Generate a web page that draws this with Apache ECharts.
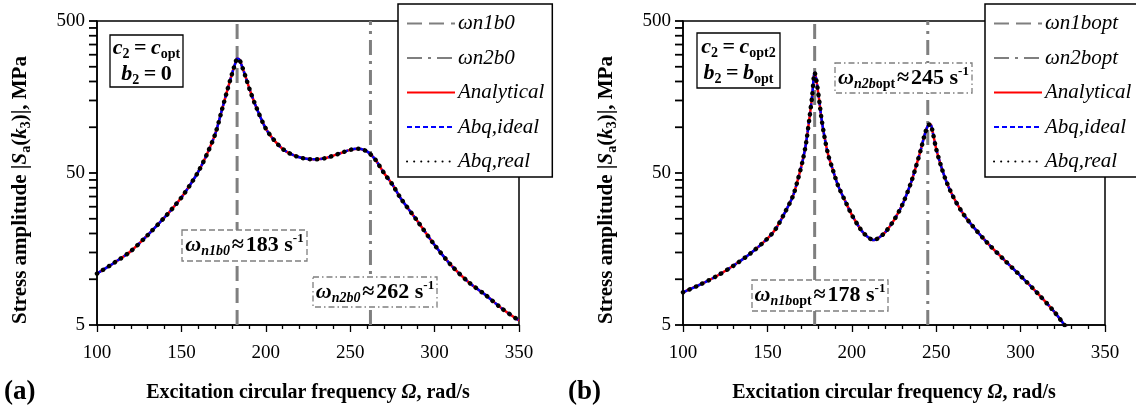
<!DOCTYPE html>
<html>
<head>
<meta charset="utf-8">
<script src="https://cdn.jsdelivr.net/npm/echarts@6/dist/echarts.min.js"></script>
<style>
  html, body { margin: 0; padding: 0; background: #fff; }
  #chart { width: 1136px; height: 411px; }
</style>
</head>
<body>
<div id="chart"></div>
<script>
// (a) c2 = copt, b2 = 0
var freqA = [100, 110, 120, 130, 140, 145, 150, 155, 160, 165, 170, 174, 177, 180, 182, 183, 184, 186, 188, 191, 195,
             200, 205, 210, 215, 220, 225, 230, 235, 240, 245, 250, 255, 258, 261, 265, 270, 275, 280, 290, 300,
             310, 320, 330, 340, 350];
var stressA = [10.9, 12.8, 15.3, 19.5, 25.5, 29.5, 34.5, 41.5, 51, 66, 90, 130, 172, 225, 265, 282, 281, 250, 215, 170, 130,
               98, 82, 72, 66.5, 63.4, 61.8, 61.5, 62.5, 65, 68, 71, 72.3, 71, 68, 61, 50, 42, 34, 24, 16.8,
               12.3, 9.6, 7.9, 6.4, 5.35];
// (b) c2 = copt2, b2 = bopt
var freqB = [100, 110, 120, 130, 140, 150, 155, 160, 165, 168, 171, 173, 175, 176.5, 178, 179, 180.9, 182, 183.8, 186,
             188.8, 192, 196.7, 200, 205, 208, 211.5, 213, 216.4, 220, 225, 230, 235, 238, 241, 243, 245, 246.5, 248, 250,
             253, 256, 260, 265, 270, 280, 290, 300, 310, 320, 326, 330];
var stressB = [8.2, 9.2, 10.5, 12.3, 14.8, 18.5, 21.5, 27, 35, 45, 61, 80, 117, 160, 228, 205, 144, 115, 86.7, 66,
               52.3, 41, 31.6, 26.5, 21.5, 19.6, 18.3, 18.1, 18.9, 20.5, 24.5, 31, 43, 55, 72, 88, 102, 105, 92, 72,
               55, 44, 35, 28, 23.5, 17.5, 13.5, 10.5, 8.1, 6.1, 5.0, 4.4];

var natFreqA = [183, 262];
var natFreqB = [178, 245];
var yRange = [5, 500];
var xTicks = [100, 350, 50];
var yLabels = [5, 50, 500];
var yMinor = [5, 10, 15, 20, 25, 30, 35, 40, 45, 50, 100, 150, 200, 250, 300, 350, 400, 450, 500];

var FONT = 'Liberation Serif';
var GRAY = '#7f7f7f';

function pts(xs, ys) {
    return xs.map(function (x, i) { return [x, ys[i]]; });
}
function vline(f) {
    return [[f, yRange[0]], [f, yRange[1]]];
}

var myChart = echarts.init(document.getElementById('chart'));

function makeX(idx) {
    return {
        type: 'value', gridIndex: idx,
        min: xTicks[0], max: xTicks[1], interval: xTicks[2],
        name: '{b|Excitation circular frequency }{bi|Ω}{b|, rad/s}',
        nameLocation: 'middle', nameGap: 58,
        nameTextStyle: {
            rich: {
                b: { fontFamily: FONT, fontWeight: 'bold', fontSize: 20, color: '#000' },
                bi: { fontFamily: FONT, fontWeight: 'bold', fontStyle: 'italic', fontSize: 20, color: '#000' }
            }
        },
        axisLine: { lineStyle: { color: '#000', width: 1.5 } },
        axisTick: { length: 7, lineStyle: { color: '#000', width: 1.3 } },
        minorTick: { show: true, splitNumber: 5, length: 4, lineStyle: { color: '#000', width: 1.3 } },
        splitLine: { show: false },
        axisLabel: { fontFamily: FONT, fontSize: 19, color: '#000', margin: 19 }
    };
}
function makeY(idx) {
    return {
        type: 'log', logBase: 10, gridIndex: idx,
        min: yRange[0], max: yRange[1],
        name: '{b|Stress amplitude |}{bi|S}{sub|a}{b|(}{bi|k}{sub|3}{b|)|, MPa}',
        nameLocation: 'middle', nameGap: 64,
        nameTextStyle: {
            padding: [0, 34, 0, 0],
            rich: {
                b: { fontFamily: FONT, fontWeight: 'bold', fontSize: 21, color: '#000', lineHeight: 25 },
                bi: { fontFamily: FONT, fontWeight: 'bold', fontStyle: 'italic', fontSize: 21, color: '#000', lineHeight: 25 },
                sub: { fontFamily: FONT, fontWeight: 'bold', fontSize: 14, color: '#000', lineHeight: 14, verticalAlign: 'bottom' }
            }
        },
        axisLine: { lineStyle: { color: '#000', width: 1.5 } },
        axisTick: { show: false },
        splitLine: { show: false },
        axisLabel: { fontFamily: FONT, fontSize: 19, color: '#000', margin: 12, customValues: yLabels }
    };
}

// y-axis tick marks at the Excel-style log positions, placed through the axis scale
function yTickSeries(idx) {
    return {
        type: 'custom', xAxisIndex: idx, yAxisIndex: idx, silent: true, clip: false, z: 6,
        data: yMinor.map(function (v) { return [xTicks[0], v]; }),
        renderItem: function (params, api) {
            var p = api.coord([api.value(0), api.value(1)]);
            return { type: 'rect', shape: { x: p[0] - 8, y: p[1] - 0.9, width: 8, height: 1.8 },
                     style: { fill: '#000' } };
        }
    };
}

function curveSeries(idx, xs, ys) {
    var data = pts(xs, ys);
    return [
        { name: 'Analytical', type: 'line', xAxisIndex: idx, yAxisIndex: idx, data: data, symbol: 'none', smooth: 0.3,
          itemStyle: { color: '#ff0000' }, lineStyle: { color: '#ff0000', width: 2.5 }, z: 3 },
        { name: 'Abq,ideal', type: 'line', xAxisIndex: idx, yAxisIndex: idx, data: data, symbol: 'none', smooth: 0.3,
          itemStyle: { color: '#0000ff' }, lineStyle: { color: '#0000ff', width: 2.5, type: [5, 3] }, z: 4 },
        { name: 'Abq,real', type: 'line', xAxisIndex: idx, yAxisIndex: idx, data: data, symbol: 'none', smooth: 0.3,
          itemStyle: { color: '#000' }, lineStyle: { color: '#000', width: 4.5, type: [0.1, 7], cap: 'round' }, z: 5 }
    ];
}
function freqSeries(idx, names, freqs) {
    return [
        { name: names[0], type: 'line', xAxisIndex: idx, yAxisIndex: idx, data: vline(freqs[0]), symbol: 'none',
          itemStyle: { color: GRAY }, lineStyle: { color: GRAY, width: 3, type: [15, 7] }, z: 2 },
        { name: names[1], type: 'line', xAxisIndex: idx, yAxisIndex: idx, data: vline(freqs[1]), symbol: 'none',
          itemStyle: { color: GRAY }, lineStyle: { color: GRAY, width: 3, type: [15, 6, 3, 6] }, z: 2 }
    ];
}

function legendAt(left, names) {
    return {
        orient: 'vertical', left: left, top: 4,
        data: names,
        itemWidth: 48, itemHeight: 20, itemGap: 13.5,
        padding: [9, 8, 5, 8],
        backgroundColor: '#fff', borderColor: '#000', borderWidth: 1.5,
        itemStyle: { color: 'rgba(0,0,0,0)', borderWidth: 0, opacity: 0 },
        textStyle: { fontFamily: FONT, fontStyle: 'italic', fontSize: 21, color: '#000', padding: [0, 0, 0, -2] },
        selectedMode: false
    };
}

// rich text styles for the boxes
var R = {
    i: { fontFamily: FONT, fontWeight: 'bold', fontStyle: 'italic', fontSize: 22, fill: '#000', lineHeight: 26 },
    b: { fontFamily: FONT, fontWeight: 'bold', fontSize: 22, fill: '#000', lineHeight: 26 },
    si: { fontFamily: FONT, fontWeight: 'bold', fontStyle: 'italic', fontSize: 14, fill: '#000', lineHeight: 14, verticalAlign: 'bottom' },
    sb: { fontFamily: FONT, fontWeight: 'bold', fontSize: 14, fill: '#000', lineHeight: 14, verticalAlign: 'bottom' },
    sup: { fontFamily: FONT, fontWeight: 'bold', fontSize: 13, fill: '#000', lineHeight: 13, verticalAlign: 'top' }
};

function box(x, y, w, h, dash, stroke, text) {
    return [
        { type: 'rect', z: 20, shape: { x: x, y: y, width: w, height: h },
          style: { fill: '#fff', stroke: stroke, lineWidth: 1.3, lineDash: dash } },
        { type: 'text', z: 21, x: x + w / 2, y: y + h / 2,
          style: { text: text, rich: R, align: 'center', verticalAlign: 'middle', fontFamily: FONT } }
    ];
}

var graphics = [].concat(
    box(110, 35, 73, 52, null, '#000', '{i|c}{sb|2}{b|\u2009=\u2009}{i|c}{sb|opt}\n{i|b}{sb|2}{b|\u2009=\u20090}'),
    box(697, 33, 83, 55, null, '#000', '{i|c}{sb|2}{b|\u2009=\u2009}{i|c}{sb|opt2}\n{i|b}{sb|2}{b|\u2009=\u2009}{i|b}{sb|opt}'),
    box(182, 230, 125, 31, [6, 3], GRAY, '{i|ω}{si|n1b0}{b|\u200a≈\u200a183 s}{sup|-1}'),
    box(313, 277, 124, 30, [6, 3, 1.5, 3], GRAY, '{i|ω}{si|n2b0}{b|\u200a≈\u200a262 s}{sup|-1}'),
    box(835, 63, 137, 30, [6, 3, 1.5, 3], GRAY, '{i|ω}{si|n2b}{sb|opt}{b|\u200a≈\u200a245 s}{sup|-1}'),
    box(752, 280, 136, 31, [6, 3], GRAY, '{i|ω}{si|n1b}{sb|opt}{b|\u200a≈\u200a178 s}{sup|-1}'),
    [
        { type: 'text', left: 4, top: 379, style: { text: '(a)', font: 'bold 27px "Liberation Serif"', fill: '#000' } },
        { type: 'text', left: 568, top: 379, style: { text: '(b)', font: 'bold 27px "Liberation Serif"', fill: '#000' } }
    ]
);

var option = {
    animation: false,
    backgroundColor: '#fff',
    grid: [
        { left: 97, top: 21, width: 422, height: 304, show: true, borderColor: '#000', borderWidth: 1.5 },
        { left: 683, top: 21, width: 422, height: 304, show: true, borderColor: '#000', borderWidth: 1.5 }
    ],
    xAxis: [makeX(0), makeX(1)],
    yAxis: [makeY(0), makeY(1)],
    legend: [
        legendAt(398, ['ωn1b0', 'ωn2b0', 'Analytical', 'Abq,ideal', 'Abq,real']),
        legendAt(985, ['ωn1bopt', 'ωn2bopt', 'Analytical', 'Abq,ideal', 'Abq,real'])
    ],
    graphic: graphics,
    series: [].concat(
        freqSeries(0, ['ωn1b0', 'ωn2b0'], natFreqA),
        curveSeries(0, freqA, stressA),
        yTickSeries(0),
        freqSeries(1, ['ωn1bopt', 'ωn2bopt'], natFreqB),
        curveSeries(1, freqB, stressB),
        yTickSeries(1)
    )
};

myChart.setOption(option);
</script>
</body>
</html>
